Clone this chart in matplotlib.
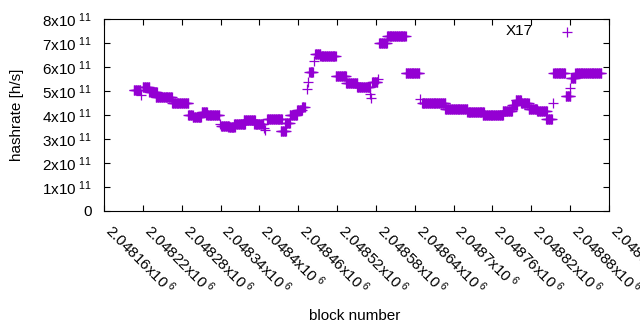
import numpy as np
from matplotlib import pyplot as plt
from matplotlib.transforms import ScaledTranslation

plt.rcParams['font.family'] = ['Liberation Sans', 'DejaVu Sans']
plt.rcParams['mathtext.fontset'] = 'custom'
plt.rcParams['mathtext.rm'] = 'Liberation Sans'
plt.rcParams['mathtext.it'] = 'Liberation Sans'
plt.rcParams['font.size'] = 11

#Runs of blocks sharing the same hashrate estimate (first block, last block, hashrate/1e11)
run_first = [2048206, 2048220, 2048230, 2048240, 2048265, 2048290, 2048297, 2048311,
             2048318, 2048341, 2048352, 2048361, 2048376, 2048386, 2048392, 2048412,
             2048433, 2048440, 2048447, 2048458, 2048466, 2048477, 2048486, 2048494,
             2048518, 2048534, 2048551, 2048574, 2048585, 2048597, 2048626, 2048651,
             2048687, 2048721, 2048733, 2048745, 2048776, 2048790, 2048796, 2048804,
             2048816, 2048829, 2048843, 2048854, 2048873, 2048881, 2048888]
run_last = [2048216, 2048230, 2048242, 2048265, 2048290, 2048297, 2048310, 2048319,
            2048338, 2048353, 2048362, 2048378, 2048385, 2048393, 2048406, 2048435,
            2048441, 2048447, 2048458, 2048466, 2048470, 2048483, 2048494, 2048518,
            2048534, 2048551, 2048571, 2048582, 2048597, 2048626, 2048647, 2048687,
            2048721, 2048732, 2048747, 2048776, 2048790, 2048798, 2048804, 2048816,
            2048829, 2048844, 2048852, 2048872, 2048880, 2048888, 2048928]
run_rate = [5.03, 5.15, 4.95, 4.74, 4.50, 4.01, 3.90, 4.12,
            3.99, 3.54, 3.48, 3.61, 3.81, 3.79, 3.62, 3.82,
            3.32, 3.67, 4.00, 4.20, 4.33, 5.78, 6.53, 6.45,
            5.61, 5.33, 5.15, 5.39, 6.99, 7.28, 5.75, 4.50,
            4.26, 4.12, 4.12, 3.98, 4.17, 4.40, 4.64, 4.50,
            4.25, 4.17, 3.83, 5.75, 4.81, 5.54, 5.75]

#Isolated blocks
single_block = [2048217, 2048339, 2048407, 2048408, 2048473, 2048475, 2048484,
                2048571, 2048572, 2048583, 2048648, 2048853, 2048880]
single_rate = [4.83, 3.62, 3.45, 3.37, 5.07, 5.37, 6.26,
               4.86, 4.70, 5.50, 4.67, 4.50, 5.12]

x_ticks = list(range(2048160, 2048941, 60))
y_ticks = [0, 1, 2, 3, 4, 5, 6, 7, 8]

blocks = []
rates = []
for first, last, rate in zip(run_first, run_last, run_rate):
    for b in range(first, last + 1):
        blocks.append(b)
        rates.append(rate * 1e11)
for b, rate in zip(single_block, single_rate):
    blocks.append(b)
    rates.append(rate * 1e11)

fig = plt.figure(figsize=(6.4, 3.3), dpi=100)
ax = fig.add_axes([104/640, 1 - 211/330, 505/640, 192/330])

color = '#9400D3'
ax.plot(blocks, rates, '+', color=color, markersize=7, markeredgewidth=0.9, linestyle='none')

ax.set_xlim(2048160, 2048940)
ax.set_ylim(0, 8e11)

def x_label(v):
    s = f"{v/1e6:.5f}".rstrip('0')
    return s + r'x10$^{\ 6}$'

def y_label(v):
    if v == 0:
        return '0'
    return f"{v}" + r'x10$^{\ 11}$'

ax.set_xticks(x_ticks)
ax.set_xticklabels([x_label(v) for v in x_ticks], rotation=-45, ha='left', va='baseline',
                   rotation_mode='anchor', fontsize=11)
#shift rotated labels so the first glyph starts right at the tick
shift = ScaledTranslation(-9.5/100, 0, fig.dpi_scale_trans)
for lbl in ax.get_xticklabels():
    lbl.set_transform(lbl.get_transform() + shift)
ax.set_yticks([v * 1e11 for v in y_ticks])
ax.set_yticklabels([y_label(v) for v in y_ticks])
ax.tick_params(direction='in', length=4, width=0.8, top=True, right=True)
ax.tick_params(axis='y', pad=9)
ax.tick_params(axis='x', pad=15)
for sp in ax.spines.values():
    sp.set_linewidth(0.8)

#Key in top right, gnuplot style
fig.text(533/640, 1 - 31/330, 'X17', ha='right', va='center')
key_x = 2048160 + (567 - 104) * 780 / 505
ax.plot([key_x], [7.44e11], '+', color=color, markersize=7, markeredgewidth=0.9)

fig.text(17/640, 1 - 115/330, 'hashrate [h/s]', rotation=90, ha='center', va='center')
fig.text(355/640, 1 - 316/330, 'block number', ha='center', va='center')

plt.savefig('out.png', dpi=100)
